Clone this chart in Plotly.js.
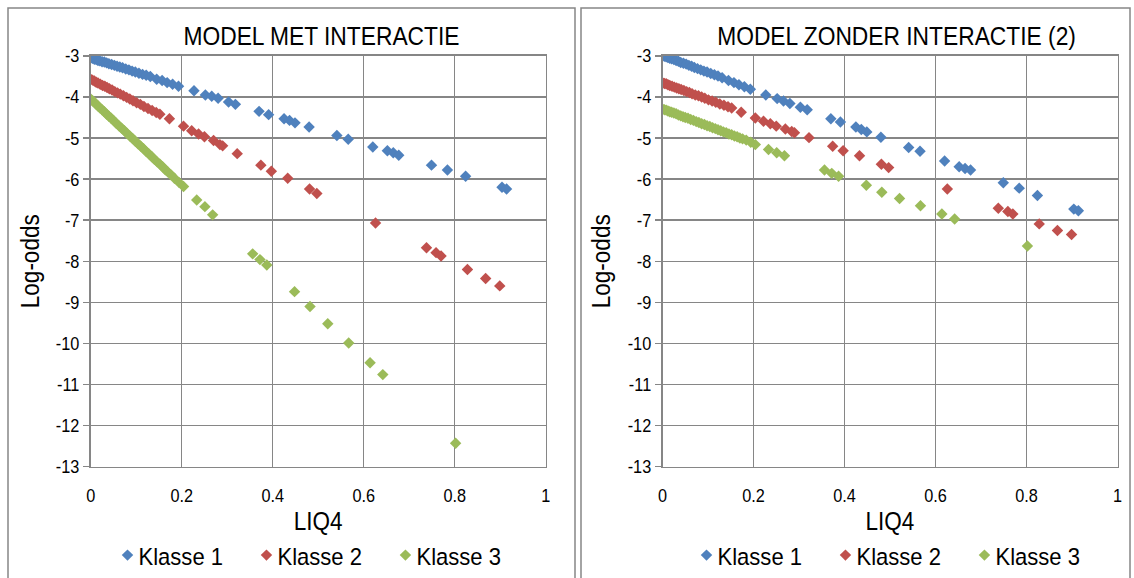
<!DOCTYPE html>
<html>
<head>
<meta charset="utf-8">
<script src="https://cdn.plot.ly/plotly-3.0.1.min.js"></script>
<style>
html,body{margin:0;padding:0;background:#fff;}
#chart{width:1134px;height:578px;}
/* legend labels: narrow face and closer to the symbol, as in the reference */
#chart .legend text, #chart .legend2 text, #chart text.legendtext {
  transform-box: fill-box;
  transform-origin: 0 50%;
  transform: translateX(-9px) scaleX(0.9);
}
</style>
</head>
<body>
<div id="chart"></div>
<script>
// ---- data ----
var panelTitles = ["MODEL MET INTERACTIE", "MODEL ZONDER INTERACTIE (2)"];
var seriesNames = ["Klasse 1", "Klasse 2", "Klasse 3"];
var xTitle = "LIQ4";
var yTitle = "Log-odds";
var xTickVals = [0, 0.2, 0.4, 0.6, 0.8, 1];
var xTickText = ["0", "0.2", "0.4", "0.6", "0.8", "1"];
var yTickVals = [-3, -4, -5, -6, -7, -8, -9, -10, -11, -12, -13];
var yTickText = ["-3", "-4", "-5", "-6", "-7", "-8", "-9", "-10", "-11", "-12", "-13"];

// Klasse 1
var x1 = [0.000,0.004,0.008,0.012,0.016,0.020,0.025,0.030,0.035,0.040,0.046,0.052,0.058,0.064,0.070,0.077,0.084,0.091,0.098,0.106,0.114,0.122,0.131,0.145,0.157,0.168,0.180,0.193,0.227,0.252,0.266,0.280,0.303,0.318,0.370,0.391,0.425,0.437,0.449,0.480,0.541,0.566,0.620,0.652,0.665,0.677,0.749,0.784,0.824,0.904,0.914];
var y1Met = [-3.05,-3.06,-3.08,-3.09,-3.11,-3.12,-3.14,-3.15,-3.17,-3.19,-3.21,-3.23,-3.25,-3.27,-3.29,-3.32,-3.34,-3.37,-3.39,-3.42,-3.45,-3.47,-3.50,-3.57,-3.60,-3.65,-3.69,-3.74,-3.85,-3.95,-3.98,-4.03,-4.12,-4.18,-4.35,-4.43,-4.53,-4.57,-4.63,-4.73,-4.94,-5.03,-5.22,-5.31,-5.36,-5.42,-5.66,-5.78,-5.93,-6.20,-6.24];
var y1Zonder = [-2.99,-3.01,-3.02,-3.04,-3.06,-3.07,-3.09,-3.11,-3.13,-3.16,-3.18,-3.20,-3.23,-3.25,-3.28,-3.31,-3.34,-3.37,-3.39,-3.43,-3.46,-3.49,-3.53,-3.60,-3.65,-3.70,-3.75,-3.81,-3.95,-4.04,-4.10,-4.16,-4.25,-4.31,-4.53,-4.61,-4.73,-4.79,-4.85,-4.98,-5.23,-5.32,-5.56,-5.70,-5.74,-5.78,-6.09,-6.22,-6.40,-6.73,-6.77];

// Klasse 2
var x2 = [0.000,0.004,0.008,0.012,0.016,0.021,0.026,0.031,0.036,0.041,0.047,0.053,0.059,0.065,0.072,0.079,0.086,0.093,0.101,0.109,0.117,0.126,0.135,0.144,0.152,0.173,0.204,0.222,0.237,0.250,0.270,0.284,0.290,0.322,0.374,0.397,0.433,0.481,0.497,0.626,0.738,0.759,0.770,0.828,0.868,0.899];
var y2Met = [-3.57,-3.59,-3.61,-3.64,-3.66,-3.69,-3.72,-3.74,-3.77,-3.80,-3.83,-3.87,-3.90,-3.93,-3.97,-4.01,-4.05,-4.09,-4.14,-4.18,-4.23,-4.28,-4.33,-4.38,-4.42,-4.53,-4.71,-4.82,-4.90,-4.97,-5.06,-5.16,-5.19,-5.38,-5.66,-5.81,-5.98,-6.24,-6.35,-7.07,-7.67,-7.79,-7.87,-8.20,-8.42,-8.60];
var y2Zonder = [-3.65,-3.67,-3.68,-3.70,-3.72,-3.74,-3.76,-3.78,-3.80,-3.82,-3.84,-3.87,-3.89,-3.92,-3.95,-3.97,-4.00,-4.03,-4.07,-4.10,-4.13,-4.17,-4.20,-4.24,-4.27,-4.37,-4.51,-4.59,-4.65,-4.71,-4.78,-4.84,-4.87,-4.99,-5.20,-5.31,-5.43,-5.64,-5.72,-6.24,-6.71,-6.79,-6.85,-7.09,-7.25,-7.35];

// Klasse 3
var x3 = [0.000,0.004,0.008,0.012,0.016,0.020,0.025,0.030,0.035,0.040,0.045,0.050,0.056,0.062,0.068,0.074,0.080,0.086,0.092,0.098,0.104,0.110,0.116,0.122,0.128,0.134,0.140,0.146,0.152,0.158,0.164,0.170,0.176,0.184,0.194,0.204,0.233,0.251,0.268,0.356,0.372,0.387,0.448,0.482,0.521,0.567,0.614,0.642,0.802];
var y3Met = [-4.05,-4.09,-4.13,-4.18,-4.22,-4.26,-4.31,-4.36,-4.42,-4.47,-4.52,-4.57,-4.64,-4.70,-4.76,-4.82,-4.89,-4.95,-5.01,-5.08,-5.14,-5.20,-5.26,-5.33,-5.39,-5.45,-5.52,-5.58,-5.64,-5.70,-5.77,-5.83,-5.89,-5.98,-6.08,-6.18,-6.51,-6.67,-6.87,-7.82,-7.96,-8.09,-8.74,-9.10,-9.52,-9.99,-10.47,-10.76,-12.43];
var y3Zonder = [-4.29,-4.31,-4.32,-4.34,-4.36,-4.37,-4.39,-4.41,-4.44,-4.46,-4.48,-4.50,-4.52,-4.55,-4.57,-4.60,-4.62,-4.65,-4.67,-4.70,-4.72,-4.75,-4.77,-4.80,-4.82,-4.85,-4.87,-4.90,-4.92,-4.95,-4.97,-5.00,-5.02,-5.05,-5.10,-5.16,-5.28,-5.36,-5.43,-5.78,-5.86,-5.93,-6.15,-6.32,-6.47,-6.65,-6.85,-6.97,-7.63];

// ---- styling ----
var colors = ["#4F81BD", "#C0504D", "#9BBB59"];
var FONT = "'Liberation Sans Narrow', 'Arial Narrow', 'Liberation Sans', Arial, sans-serif";
var GRID = "#868686";
var W = 1134, H = 578;
function px(v){ return v / W; }
function py(v){ return 1 - v / H; }

var xsets = [x1, x2, x3];
var ysetsMet = [y1Met, y2Met, y3Met];
var ysetsZonder = [y1Zonder, y2Zonder, y3Zonder];

var traces = [];
for (var i = 0; i < 3; i++) {
  traces.push({
    type: "scatter", mode: "markers", name: seriesNames[i],
    x: xsets[i], y: ysetsMet[i], xaxis: "x", yaxis: "y",
    marker: {symbol: "diamond", size: 8.8, color: colors[i]},
    legend: "legend", showlegend: true
  });
}
for (var j = 0; j < 3; j++) {
  traces.push({
    type: "scatter", mode: "markers", name: seriesNames[j],
    x: xsets[j], y: ysetsZonder[j], xaxis: "x2", yaxis: "y2",
    marker: {symbol: "diamond", size: 8.8, color: colors[j]},
    legend: "legend2", showlegend: true
  });
}

function xaxisDef(domain, anchor){
  return {
    domain: domain, anchor: anchor, range: [0, 1], autorange: false,
    tickvals: xTickVals, ticktext: xTickText,
    showgrid: true, gridcolor: GRID, gridwidth: 1.5,
    showline: true, linecolor: GRID, linewidth: 1.6, mirror: true,
    zeroline: false, ticks: "", ticklabelstandoff: 12,
    tickfont: {family: FONT, size: 18.5, color: "#000"},
    title: {text: xTitle, font: {family: FONT, size: 25, color: "#000"}, standoff: 7}
  };
}
function yaxisDef(anchor){
  return {
    domain: [py(471.5), py(56.5)], anchor: anchor, range: [-13, -3], autorange: false,
    tickvals: yTickVals, ticktext: yTickText,
    showgrid: true, gridcolor: GRID, gridwidth: 1.5,
    showline: true, linecolor: GRID, linewidth: 1.6, mirror: true,
    zeroline: false, ticks: "outside", ticklen: 6, tickcolor: GRID, tickwidth: 1.5,
    tickfont: {family: FONT, size: 18.5, color: "#000"},
    title: {text: yTitle, font: {family: FONT, size: 25, color: "#000"}, standoff: 6}
  };
}

var layout = {
  width: W, height: H,
  margin: {l: 0, r: 0, t: 0, b: 0},
  paper_bgcolor: "#fff", plot_bgcolor: "#fff",
  font: {family: FONT, color: "#000"},
  xaxis: xaxisDef([px(90.7), px(545.7)], "y"),
  yaxis: yaxisDef("x"),
  xaxis2: xaxisDef([px(662.5), px(1117.5)], "y2"),
  yaxis2: yaxisDef("x2"),
  legend: {orientation: "h", x: px(316), xanchor: "center", y: py(561), yanchor: "middle",
           font: {family: FONT, size: 24.5, color: "#000"}, bgcolor: "rgba(0,0,0,0)", itemwidth: 30, tracegroupgap: 0},
  legend2: {orientation: "h", x: px(895), xanchor: "center", y: py(561), yanchor: "middle",
           font: {family: FONT, size: 24.5, color: "#000"}, bgcolor: "rgba(0,0,0,0)", itemwidth: 30, tracegroupgap: 0},
  annotations: [
    {xref: "paper", yref: "paper", x: px(321), y: py(36), xanchor: "center", yanchor: "middle",
     text: panelTitles[0], showarrow: false, font: {family: FONT, size: 26.5, color: "#000"}},
    {xref: "paper", yref: "paper", x: px(896), y: py(36), xanchor: "center", yanchor: "middle",
     text: panelTitles[1], showarrow: false, font: {family: FONT, size: 26.5, color: "#000"}}
  ],
  shapes: [
    {type: "rect", xref: "paper", yref: "paper", x0: px(8), x1: px(575), y0: -0.05, y1: py(8),
     line: {color: GRID, width: 1.5}, layer: "below"},
    {type: "rect", xref: "paper", yref: "paper", x0: px(581), x1: px(1130), y0: -0.05, y1: py(8),
     line: {color: GRID, width: 1.5}, layer: "below"}
  ],
  showlegend: true
};

// The reference uses a narrow typeface; squeeze the rendered text horizontally to match.
// Idempotent, so it can safely run more than once.
function narrowText(gd){
  var rules = [
    [".annotation-text", 0.86],
    [".xtick text, .ytick text, .x2tick text, .y2tick text", 0.88],
    [".xtitle, .x2title, .ytitle, .y2title", 0.90]
  ];
  rules.forEach(function(r){
    gd.querySelectorAll(r[0]).forEach(function(el){
      try {
        el.removeAttribute("textLength");
        el.removeAttribute("lengthAdjust");
        var len = el.getComputedTextLength();
        if (len > 0) {
          el.setAttribute("textLength", (len * r[1]).toFixed(2));
          el.setAttribute("lengthAdjust", "spacingAndGlyphs");
        }
      } catch (e) {}
    });
  });
}

var gd = document.getElementById("chart");
Plotly.newPlot(gd, traces, layout, {staticPlot: true, displayModeBar: false}).then(function(){
  narrowText(gd);
  setTimeout(function(){ narrowText(gd); }, 60);
});
</script>
</body>
</html>
